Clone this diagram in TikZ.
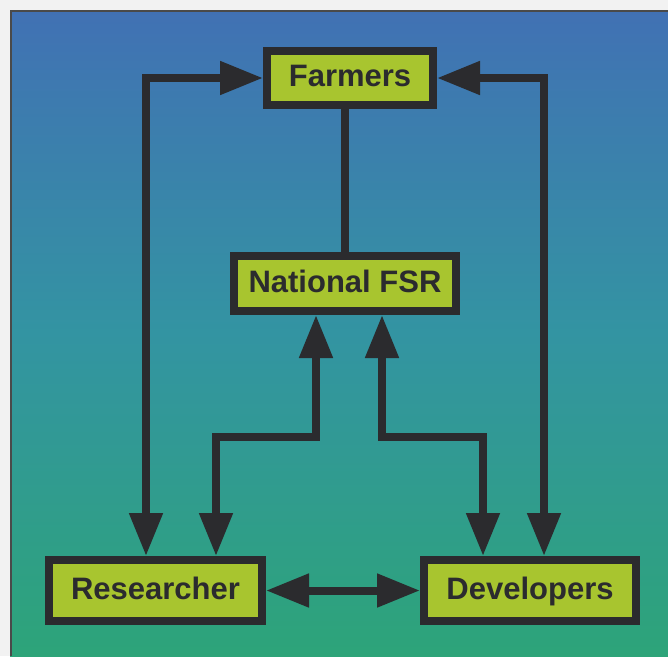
\documentclass[tikz,border=0pt]{standalone}
\usepackage{fontspec}
\setmainfont{Liberation Sans}
\usetikzlibrary{arrows.meta}
\definecolor{margin}{HTML}{F2F2F2}
\definecolor{bgtop}{HTML}{4171B4}
\definecolor{bgmid}{HTML}{3394A2}
\definecolor{bgbot}{HTML}{2DA479}
\definecolor{boxfill}{HTML}{A8C52F}
\definecolor{ink}{HTML}{2B2B2E}
\definecolor{frame}{HTML}{4A4A4A}
\tikzset{
  x=1pt, y=1pt,
  boxnode/.style={draw=ink, fill=boxfill, line width=8pt, inner sep=0pt,
    text height=22pt, text depth=5pt,
    minimum height=54pt, text=ink, font=\fontsize{31}{31}\selectfont\bfseries},
  link/.style={draw=ink, line width=8pt},
  both/.style={link, {Triangle[length=43pt,width=32pt]}-{Triangle[length=43pt,width=32pt]}},
  single/.style={link, -{Triangle[length=43pt,width=32pt]}}
}
\begin{document}
\begin{tikzpicture}
\useasboundingbox (0,0) rectangle (668,-656);
\fill[margin] (0,0) rectangle (668,-656);
\shade[top color=bgtop, bottom color=bgbot, middle color=bgmid] (10,-10) rectangle (668,-656);
\draw[frame, line width=1.5pt] (10.75,-656) -- (10.75,-10.75) -- (668,-10.75);

\node[boxnode, minimum width=166pt, minimum height=54pt] (F) at (350,-78) {Farmers};
\node[boxnode, minimum width=222pt, minimum height=55pt] (N) at (345,-283.5) {National FSR};
\node[boxnode, minimum width=213pt, minimum height=61pt] (R) at (155.5,-590.5) {Researcher};
\node[boxnode, minimum width=212pt, minimum height=61pt] (D) at (530,-590.5) {Developers};

\coordinate (mid) at (0,-437);

\draw[link] (N.north) -- (N.north |- F.south);
\draw[both] (F.west) -| ([xshift=-9.5pt]R.north);
\draw[both] (F.east) -| ([xshift=14pt]D.north);
\draw[both] ([xshift=-29pt]N.south) -- ([xshift=-29pt]N.south |- mid) -| ([xshift=60.5pt]R.north);
\draw[both] ([xshift=37pt]N.south) -- ([xshift=37pt]N.south |- mid) -| ([xshift=-47pt]D.north);
\draw[both] (R.east) -- (D.west);
\end{tikzpicture}
\end{document}
